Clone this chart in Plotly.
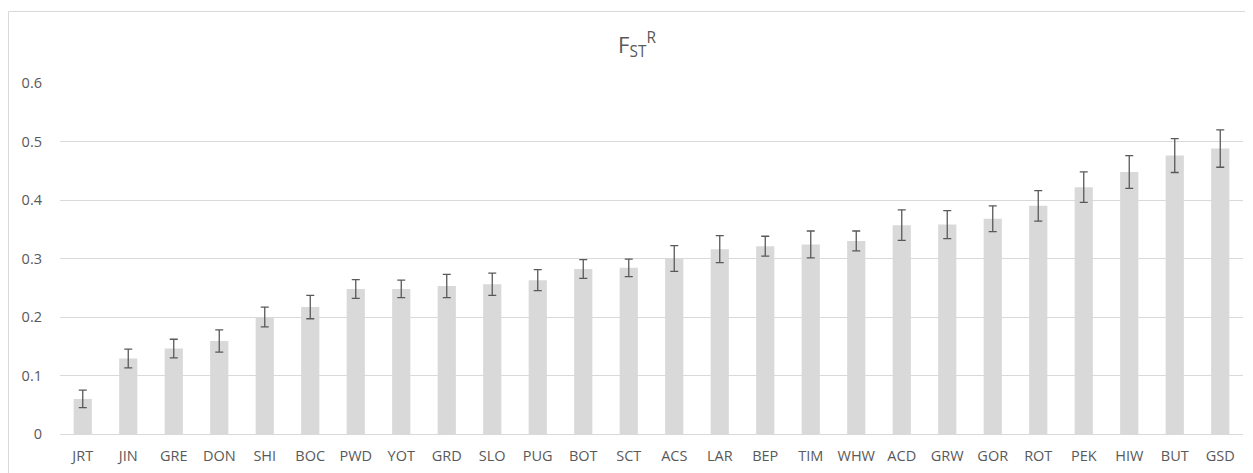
import plotly.graph_objects as go

categories = ["JRT", "JIN", "GRE", "DON", "SHI", "BOC", "PWD", "YOT", "GRD", "SLO", "PUG", "BOT", "SCT",
              "ACS", "LAR", "BEP", "TIM", "WHW", "ACD", "GRW", "GOR", "ROT", "PEK", "HIW", "BUT", "GSD"]
fst_values = [0.060, 0.129, 0.146, 0.159, 0.200, 0.217, 0.248, 0.248, 0.253, 0.256, 0.263, 0.282, 0.284,
              0.300, 0.316, 0.321, 0.324, 0.330, 0.357, 0.358, 0.368, 0.390, 0.422, 0.448, 0.476, 0.488]
fst_errors = [0.015, 0.016, 0.016, 0.019, 0.017, 0.020, 0.016, 0.015, 0.020, 0.019, 0.018, 0.016, 0.015,
              0.022, 0.023, 0.017, 0.023, 0.017, 0.026, 0.024, 0.022, 0.026, 0.026, 0.028, 0.029, 0.032]
y_ticks = [0, 0.1, 0.2, 0.3, 0.4, 0.5, 0.6]
y_tick_labels = ["0", "0.1", "0.2", "0.3", "0.4", "0.5", "0.6"]

# page body has an 8px margin; compensate so the picture lines up with the reference
OFF = 8
W, H = 1253 - OFF, 473 - OFF
# reference plot area: x 60..1243, y 83..434 (window pixels)
ml, mt = 60 - OFF, 83 - OFF
mr = 1253 - 1243
mb = 473 - 434
pw = W - ml - mr
ph = H - mt - mb

fig = go.Figure(go.Bar(
    x=categories, y=fst_values,
    marker=dict(color="#d9d9d9", line=dict(width=0)),
    error_y=dict(type="data", array=fst_errors, symmetric=True,
                 color="#595959", thickness=1.3, width=4),
    hoverinfo="x+y",
))

font_family = "Open Sans, DejaVu Sans, sans-serif"

fig.update_layout(
    width=W, height=H,
    margin=dict(l=ml, r=mr, t=mt, b=mb, autoexpand=False),
    paper_bgcolor="white", plot_bgcolor="white",
    bargap=0.6,
    showlegend=False,
    font=dict(family=font_family, color="#595959", size=14),
    title=dict(text="F<sub>ST</sub><sup>R</sup>", x=(637 - OFF) / W, xanchor="center",
               y=1 - (45 - OFF) / H, yanchor="middle",
               font=dict(size=22, color="#595959", family=font_family)),
    xaxis=dict(showgrid=False, showline=True, linecolor="#d9d9d9", linewidth=1,
               ticks="", ticklabelstandoff=9,
               tickfont=dict(size=14.5, color="#595959"),
               range=[-0.5, len(categories) - 0.5]),
    yaxis=dict(range=[0, 0.6], tickvals=y_ticks, ticktext=y_tick_labels,
               showgrid=True, gridcolor="#d9d9d9", gridwidth=1,
               zeroline=False, showline=False, ticks="",
               ticklabelstandoff=17,
               tickfont=dict(size=14.5, color="#595959")),
    shapes=[dict(type="rect", xref="paper", yref="paper",
                 x0=(0.5 - ml) / pw, x1=(W + 5 - ml) / pw,
                 y0=-(H + 5 - (mt + ph)) / ph, y1=(mt + ph - (12 - OFF) + 0.5) / ph,
                 line=dict(color="#d9d9d9", width=1), fillcolor="rgba(0,0,0,0)",
                 layer="below")],
)

fig.write_html("out.html")
